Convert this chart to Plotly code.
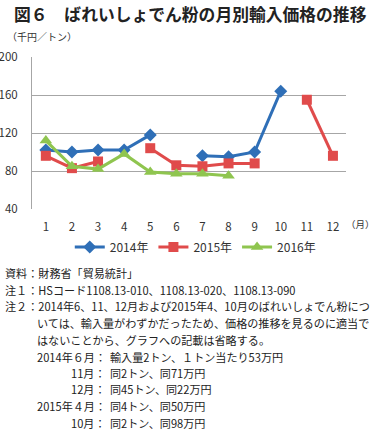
import plotly.graph_objects as go

months = [1, 2, 3, 4, 5, 6, 7, 8, 9, 10, 11, 12]
month_labels = ["1", "2", "3", "4", "5", "6", "7", "8", "9", "10", "11", "12"]
price_2014 = [102, 100, 102, 102, 118, None, 96, 95, 100, 164, None, None]
price_2015 = [96, 83, 90, None, 104, 86, 85, 88, 88, None, 155, 96]
price_2016 = [112, 85, 82, 98, 79, 77, 77, 75, None, None, None, None]
y_ticks = [40, 80, 120, 160, 200]

FONT = "Noto Sans CJK JP"
W, H = 380, 445
ML, MR, MT, MB = 32, 34, 57, 236
PH = H - MT - MB


def py(pix):
    return (H - MB - pix) / PH


def px(pix):
    return (pix - ML) / (W - ML - MR)


fig = go.Figure()
series = [
    ("2014年", price_2014, "#2f6fb7", "diamond", 10),
    ("2015年", price_2015, "#e04b4b", "square", 10),
    ("2016年", price_2016, "#8fc54f", "triangle-up", 11),
]
for name, vals, col, sym, ms in series:
    fig.add_trace(go.Scatter(
        x=months, y=vals, name=name, mode="lines+markers",
        line=dict(color=col, width=3),
        marker=dict(symbol=sym, size=ms, color=col),
        connectgaps=False,
    ))

fig.update_layout(
    width=W, height=H,
    margin=dict(l=ML, r=MR, t=MT, b=MB, autoexpand=False),
    paper_bgcolor="white", plot_bgcolor="white",
    font=dict(family=FONT, size=11, color="#333"),
    showlegend=True,
    legend=dict(orientation="h", x=0.52, xanchor="center", y=py(247), yanchor="middle",
                font=dict(size=12, color="#333"), itemwidth=30, tracegroupgap=0),
    xaxis=dict(range=[0.47, 12.5], tickmode="array", tickvals=months, ticktext=month_labels,
               showgrid=False, zeroline=False, showline=False, ticks="", automargin=False,
               ticklabelstandoff=9, tickfont=dict(size=11.5, color="#333")),
    yaxis=dict(range=[40, 200], tickmode="array", tickvals=y_ticks, automargin=False,
               showgrid=True, gridcolor="#a6a6a6", gridwidth=1, zeroline=False,
               showline=True, linecolor="#a6a6a6", linewidth=1, ticks="",
               ticklabelstandoff=11, tickfont=dict(size=11.5, color="#333")),
)

anns = []
anns.append(dict(text="<b>図６　ばれいしょでん粉の月別輸入価格の推移</b>", x=px(12), y=py(14),
                 xanchor="left", yanchor="middle", font=dict(size=16.8, color="#222")))
anns.append(dict(text="（千円／トン）", x=px(5), y=py(36), xanchor="left", yanchor="middle",
                 font=dict(size=10, color="#333")))
anns.append(dict(text="（月）", x=px(344), y=py(224), xanchor="left", yanchor="middle",
                 font=dict(size=9.5, color="#333")))

note_size = 11.1
lines = [
    (3, 273, "資料：財務省「貿易統計」"),
    (3, 290, "注１：HSコード1108.13-010、1108.13-020、1108.13-090"),
    (3, 306, "注２：2014年6、11、12月および2015年4、10月のばれいしょでん粉につ"),
    (35, 323, "いては、輸入量がわずかだったため、価格の推移を見るのに適当で"),
    (35, 340, "はないことから、グラフへの記載は省略する。"),
]
for x0, y0, t in lines:
    anns.append(dict(text=t, x=px(x0), y=py(y0), xanchor="left", yanchor="middle",
                     font=dict(size=note_size, color="#222")))

detail = [
    (357, "2014年６月：", "輸入量2トン、１トン当たり53万円"),
    (373, "11月：", "同2トン、同71万円"),
    (389, "12月：", "同45トン、同22万円"),
    (406, "2015年４月：", "同4トン、同50万円"),
    (423, "10月：", "同2トン、同98万円"),
]
for y0, lab, t in detail:
    anns.append(dict(text=lab, x=px(108), y=py(y0), xanchor="right", yanchor="middle",
                     font=dict(size=note_size, color="#222")))
    anns.append(dict(text=t, x=px(108), y=py(y0), xanchor="left", yanchor="middle",
                     font=dict(size=note_size, color="#222")))

for a in anns:
    a.update(xref="paper", yref="paper", showarrow=False)
fig.update_layout(annotations=anns)

fig.write_html("out.html", config={"displayModeBar": False},
               post_script="document.body.style.margin='0';document.body.style.padding='0';")
